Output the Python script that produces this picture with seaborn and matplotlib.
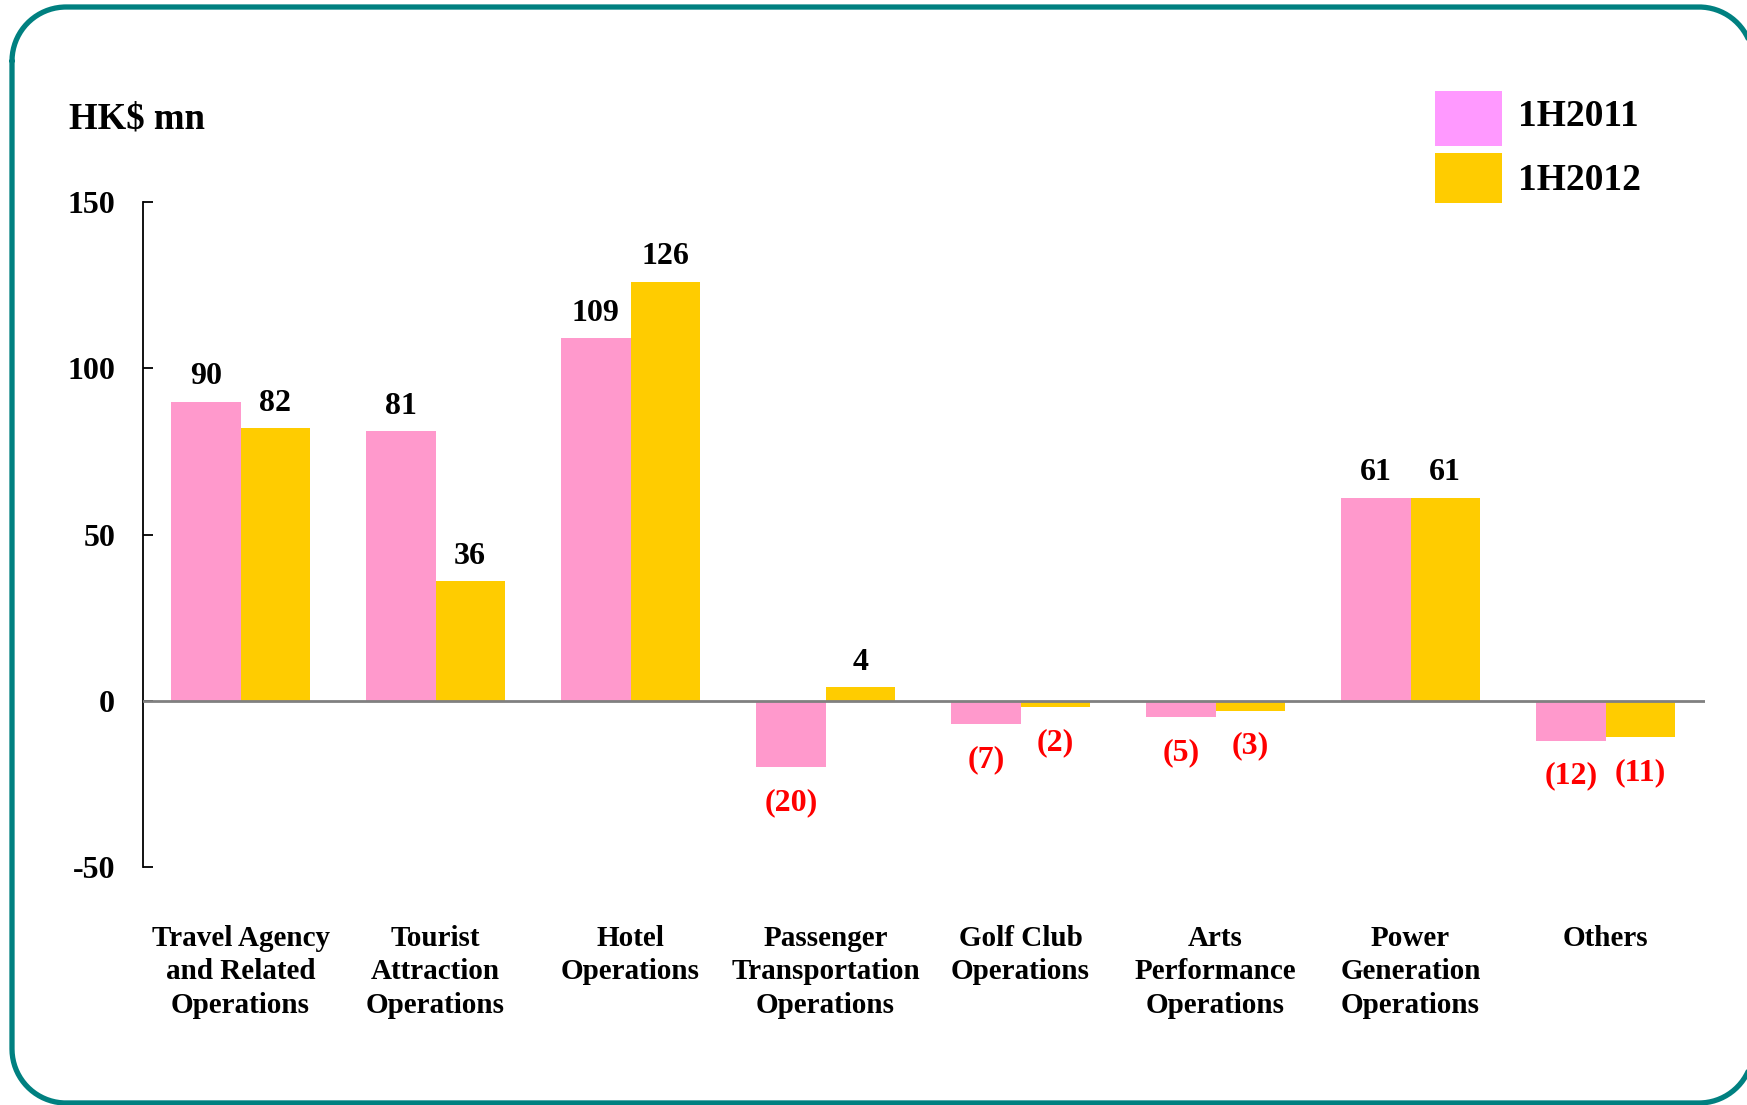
import matplotlib
matplotlib.use("Agg")
import matplotlib.pyplot as plt
import seaborn as sns
import pandas as pd
import numpy as np
from matplotlib.patches import Rectangle

categories = ["Travel Agency\nand Related\nOperations", "Tourist\nAttraction\nOperations",
              "Hotel\nOperations", "Passenger\nTransportation\nOperations",
              "Golf Club\nOperations", "Arts\nPerformance\nOperations",
              "Power\nGeneration\nOperations", "Others"]
series_names = ["1H2011", "1H2012"]
values_2011 = [90, 81, 109, -20, -7, -5, 61, -12]
values_2012 = [82, 36, 126, 4, -2, -3, 61, -11]
y_ticks = [-50, 0, 50, 100, 150]
y_label = "HK$ mn"

bar_colors = {"1H2011": "#FF99CC", "1H2012": "#FFCC00"}
legend_colors = ["#FF99FF", "#FFCC00"]

sns.set_theme(style="white")
plt.rcParams["font.family"] = ["Liberation Serif", "DejaVu Serif"]
plt.rcParams["font.weight"] = "bold"
plt.rcParams["text.color"] = "black"
plt.rcParams["xtick.color"] = "black"
plt.rcParams["ytick.color"] = "black"
plt.rcParams["axes.labelcolor"] = "black"

df = pd.DataFrame({
    "category": categories * 2,
    "series": [series_names[0]] * len(categories) + [series_names[1]] * len(categories),
    "value": values_2011 + values_2012,
})

W, H = 1747, 1105
fig = plt.figure(figsize=(W / 100, H / 100), dpi=100)

# background overlay axes in pixel coordinates for the rounded frame
bg = fig.add_axes([0, 0, 1, 1], zorder=-1)
bg.set_xlim(0, W)
bg.set_ylim(H, 0)
bg.axis("off")

x0, y0, x1, y1, r = 12, 7, 1753, 1103, 54
t = np.linspace(0, np.pi / 2, 40)
xs, ys = [], []
# top-left corner (from left edge to top edge)
xs += list(x0 + r - r * np.cos(t)); ys += list(y0 + r - r * np.sin(t))
# top-right
xs += list(x1 - r + r * np.sin(t)); ys += list(y0 + r - r * np.cos(t))
# bottom-right
xs += list(x1 - r + r * np.cos(t)); ys += list(y1 - r + r * np.sin(t))
# bottom-left
xs += list(x0 + r - r * np.sin(t)); ys += list(y1 - r + r * np.cos(t))
xs.append(xs[0]); ys.append(ys[0])
bg.plot(xs, ys, color="#008080", lw=3.8, clip_on=False, solid_joinstyle="round")

# legend
leg_boxes = [(1435, 91, 1502, 146), (1435, 153, 1502, 203)]
leg_text_y = [117, 180]
for (bx0, by0, bx1, by1), c, name, ty in zip(leg_boxes, legend_colors, series_names, leg_text_y):
    bg.add_patch(Rectangle((bx0, by0), bx1 - bx0, by1 - by0, facecolor=c, edgecolor="none"))
    bg.text(1518, ty, name, fontsize=27, fontweight="bold", va="center", ha="left")

bg.text(69, 119, y_label, fontsize=26.5, fontweight="bold", va="center", ha="left")

ax = fig.add_axes([143 / W, 1 - 867 / H, (1705 - 143) / W, (867 - 202) / H])
ax.patch.set_alpha(0)

sns.barplot(data=df, x="category", y="value", hue="series", order=categories,
            hue_order=series_names, palette=bar_colors, width=0.71, gap=0,
            saturation=1, ax=ax, legend=False, errorbar=None, linewidth=0)

ax.set_xlim(-0.5, 7.51)
ax.set_ylim(-50, 150)
ax.set_yticks(y_ticks)
ax.set_yticklabels([str(v) for v in y_ticks], fontsize=23, fontweight="bold")
ax.tick_params(axis="y", direction="in", length=7, width=1.3, pad=20, left=True)
ax.tick_params(axis="x", length=0, pad=41.5)
ax.set_xticks(range(len(categories)))
ax.set_xticklabels(categories, fontsize=21, fontweight="bold", linespacing=1.31, va="top")
ax.set_xlabel("")
ax.set_ylabel("")
for s in ["top", "right", "bottom"]:
    ax.spines[s].set_visible(False)
ax.spines["left"].set_color("black")
ax.spines["left"].set_linewidth(1.3)
ax.axhline(0, color="#808080", lw=2.0, zorder=3)
ax.grid(False)

for cont in ax.containers:
    for bar in cont:
        v = bar.get_height()
        xc = bar.get_x() + bar.get_width() / 2
        if v >= 0:
            ax.annotate(f"{v:.0f}", (xc, v), xytext=(0, 18), textcoords="offset points",
                        ha="center", va="center", fontsize=23, fontweight="bold", color="black")
        else:
            ax.annotate(f"({-v:.0f})", (xc, v), xytext=(0, -25.5), textcoords="offset points",
                        ha="center", va="center", fontsize=23, fontweight="bold", color="#FF0000")

fig.savefig("out.png", dpi=100)
